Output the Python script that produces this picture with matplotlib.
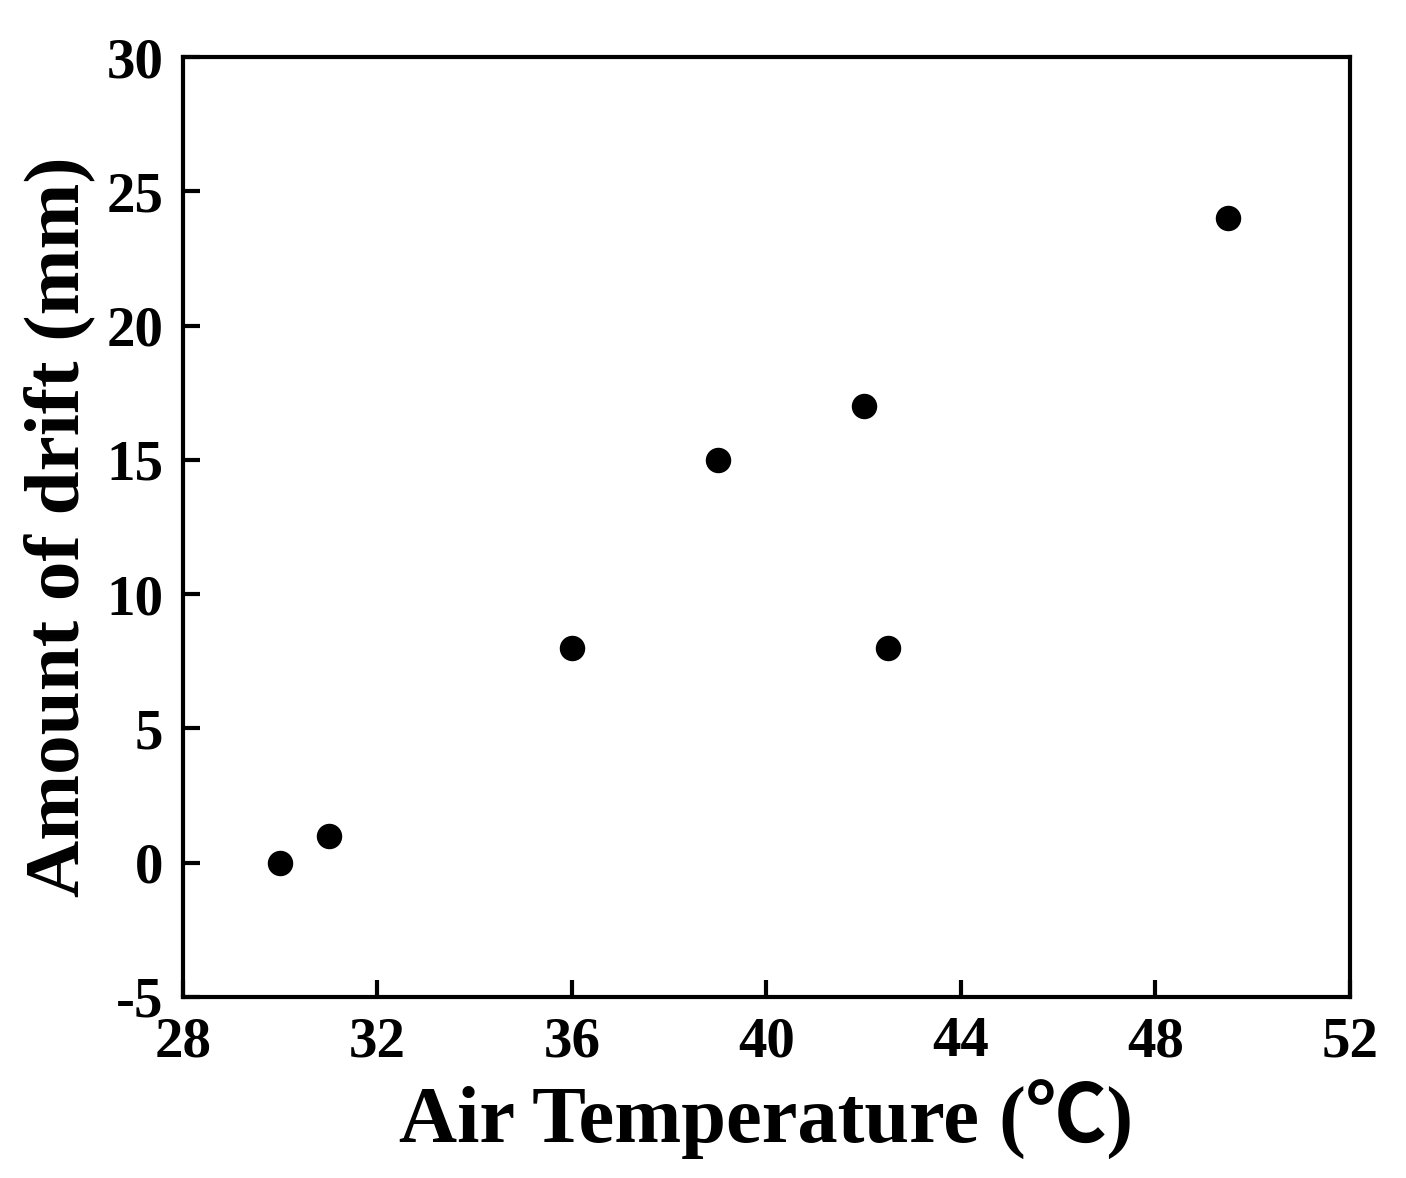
import numpy as np
import matplotlib.pyplot as plt

# data
air_temp = [30, 31, 36, 39, 42, 42.5, 49.5]
drift = [0, 1, 8, 15, 17, 8, 24]

x_ticks = [28, 32, 36, 40, 44, 48, 52]
y_ticks = [-5, 0, 5, 10, 15, 20, 25, 30]

plt.rcParams['font.family'] = ['Liberation Serif', 'Noto Sans CJK SC', 'DejaVu Sans']
plt.rcParams['font.weight'] = 'bold'
plt.rcParams['axes.unicode_minus'] = False

fig = plt.figure(figsize=(14.06, 11.78), dpi=100)
ax = fig.add_axes([0.130, 0.1537, 0.830, 0.7979])

ax.scatter(air_temp, drift, s=300, c='black', zorder=3)

ax.set_xlim(28, 52)
ax.set_ylim(-5, 30)
ax.set_xticks(x_ticks)
ax.set_yticks(y_ticks)
ax.tick_params(direction='in', length=12, width=3, labelsize=41)
ax.tick_params(axis='x', pad=14)
ax.tick_params(axis='y', pad=14)
for lab in ax.get_xticklabels() + ax.get_yticklabels():
    lab.set_fontweight('bold')
for sp in ax.spines.values():
    sp.set_linewidth(3)

ax.set_xlabel('Air Temperature (℃)', fontsize=58, fontweight='bold', labelpad=8)
ax.set_ylabel('Amount of drift (mm)', fontsize=57, fontweight='bold', labelpad=8)

fig.savefig('out.png', dpi=100)
